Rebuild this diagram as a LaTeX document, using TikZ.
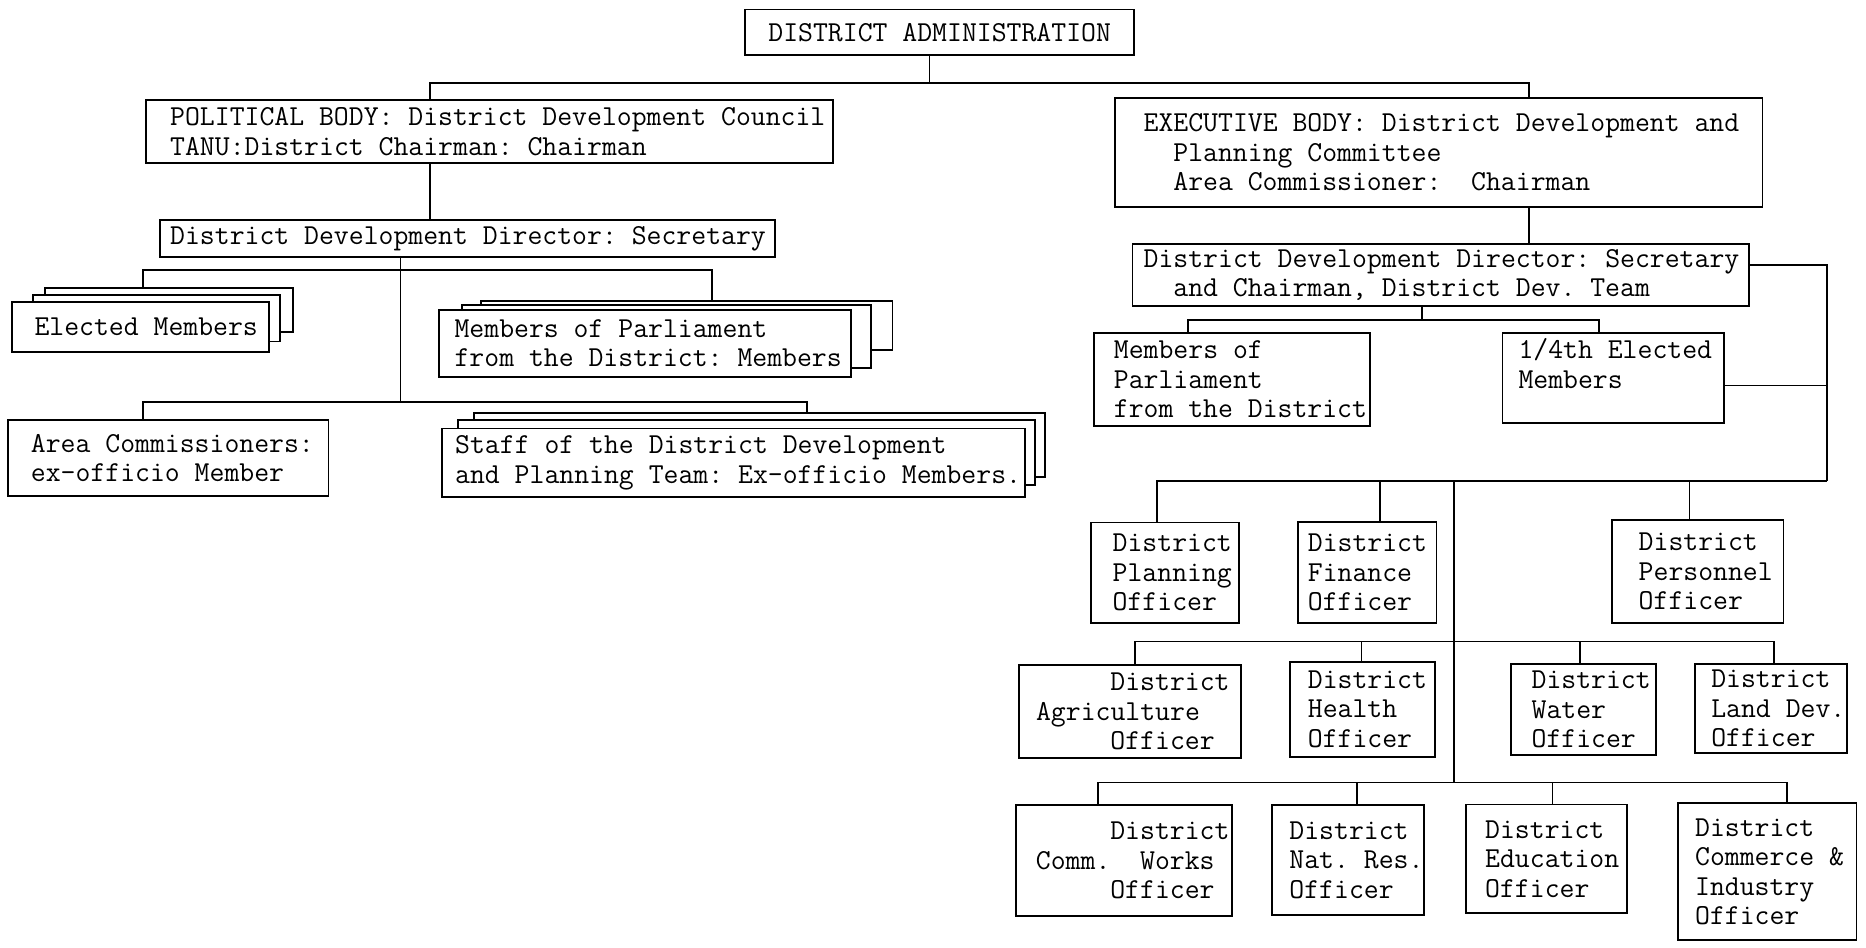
\documentclass[tikz,border=0pt]{standalone}
\usepackage{tikz}
\tikzset{
  bx/.style={draw, line width=1.5pt, fill=white, anchor=north west, inner xsep=0pt, inner ysep=0pt, outer sep=0pt, align=left, font=\ttfamily\fontsize{24.3}{24.8}\selectfont},
  ln/.style={line width=1.5pt},
}
\newcommand\bxnode[7]{%
  \pgfmathsetlengthmacro\bxw{(#4)-(#2)}%
  \pgfmathsetlengthmacro\bxh{(#5)-(#3)}%
  \pgfmathsetlengthmacro\bxp{(#6)-(#2)}%
  \node[bx, text width=\bxw, minimum height=\bxh] (#1) at (#2,#3) {\spaceskip=12.5pt\relax\xspaceskip=12.5pt\relax\leftskip=\bxp\relax #7\par};}
\begin{document}
\begin{tikzpicture}[x=1pt,y=-1pt]
\useasboundingbox (0,0) rectangle (1568,796);
% ---------- boxes ----------
\bxnode{top}{626}{8}{953}{46}{645.7}{\mbox{DISTRICT ADMINISTRATION}}
\bxnode{pol}{123}{84}{700}{137}{143}{\mbox{POLITICAL BODY: District Development Council}\\\mbox{TANU:District Chairman: Chairman}}
\bxnode{ddl}{134.5}{185}{651}{216}{143}{\mbox{District Development Director: Secretary}}
% elected members stack
\bxnode{ele3}{38}{242}{246}{279}{38}{}
\bxnode{ele2}{28}{248}{235}{287}{28}{}
\bxnode{ele1}{10}{254}{226}{295.5}{29}{\mbox{Elected Members}}
% MPs stack
\bxnode{mp3}{404}{252.6}{750}{294}{404}{}
\bxnode{mp2}{388}{256}{732}{309}{388}{}
\bxnode{mp1}{369}{260.5}{715}{316.5}{382}{\mbox{Members of Parliament}\\\mbox{from the District: Members}}
\bxnode{area}{7}{353}{276}{417}{26}{\mbox{Area Commissioners:}\\\mbox{ex-officio Member}}
% staff stack
\bxnode{st3}{398}{347}{878}{400.6}{398}{}
\bxnode{st2}{385}{353}{869.5}{407.6}{385}{}
\bxnode{st1}{371.5}{360}{861}{417.6}{382.5}{\mbox{Staff of the District Development}\\\mbox{and Planning Team: Ex-officio Members.}}
% right side
\bxnode{exec}{937}{82.5}{1481}{174}{961}{\mbox{EXECUTIVE BODY: District Development and}\\\hspace*{25pt}\mbox{Planning Committee}\\\hspace*{25pt}\mbox{Area Commissioner:\ \ Chairman}}
\bxnode{ddr}{951.7}{205}{1469.7}{257}{961}{\mbox{District Development Director: Secretary}\\\hspace*{25pt}\mbox{and Chairman, District Dev. Team}}
\bxnode{mpr}{919}{280}{1151}{358}{936}{\mbox{Members of}\\Parliament\\\mbox{from the District}}
\bxnode{quarter}{1262.5}{280}{1448.6}{355.6}{1276}{\mbox{1/4th Elected}\\Members\\\mbox{}}
% officers row 1
\bxnode{plan}{916.7}{439}{1041}{523.5}{935}{District\\Planning\\Officer}
\bxnode{fin}{1091}{438.5}{1207}{523.5}{1099}{District\\Finance\\Officer}
\bxnode{pers}{1354.6}{437}{1498.7}{523.5}{1377}{District\\Personnel\\Officer}
% officers row 2
\bxnode{agri}{856}{559}{1043}{637}{870.6}{\hspace*{62.5pt}District\\Agriculture\\\hspace*{62.5pt}Officer}
\bxnode{hea}{1084}{556}{1206}{636}{1099}{District\\Health\\Officer}
\bxnode{wat}{1269.6}{558}{1391.6}{634.5}{1287}{District\\Water\\Officer}
\bxnode{land}{1424}{558}{1552}{633}{1438}{District\\\mbox{Land Dev.}\\Officer}
% officers row 3
\bxnode{cw}{854}{676.4}{1035}{770}{870.5}{\hspace*{62.5pt}District\\\mbox{Comm.\ \ Works}\\\hspace*{62.5pt}Officer}
\bxnode{nr}{1069}{676.5}{1196.8}{769}{1083.5}{District\\\mbox{Nat. Res.}\\Officer}
\bxnode{edu}{1231.6}{676}{1367}{767.4}{1248}{District\\Education\\Officer}
\bxnode{com}{1410}{675}{1560}{790}{1424.4}{District\\\mbox{Commerce \&}\\Industry\\Officer}
% ---------- junction points ----------
\coordinate (t0) at (361,70);
\coordinate (t1) at (781,70);
\coordinate (t2) at (1284.5,70);
\coordinate (l1) at (336.5,227);
\coordinate (l2) at (336.5,337.5);
\coordinate (le) at (120,227);
\coordinate (lm) at (598,227);
\coordinate (la) at (120,337.5);
\coordinate (ls) at (678,337.5);
\coordinate (r1) at (1195,269);
\coordinate (rm) at (998,269);
\coordinate (rq) at (1343.5,269);
\coordinate (v1) at (1535,222.7);
\coordinate (v3) at (1535,324);
\coordinate (v2) at (1535,404);
\coordinate (o1) at (972,404);
\coordinate (o2) at (1159.6,404);
\coordinate (o3) at (1419.6,404);
\coordinate (om) at (1222,404);
\coordinate (bm) at (1222,657.5);
\coordinate (a1) at (954,539);
\coordinate (a2) at (1144,539);
\coordinate (a3) at (1327.6,539);
\coordinate (a4) at (1491,539);
\coordinate (c1) at (922.7,657.5);
\coordinate (c2) at (1140,657.5);
\coordinate (c3) at (1304.6,657.5);
\coordinate (c4) at (1501.6,657.5);
% ---------- connectors ----------
\draw[ln] (top.south -| t1) -- (t1);
\draw[ln] (pol.north -| t0) -- (t0) -- (t2) -- (exec.north -| t2);
\draw[ln] (pol.south -| t0) -- (ddl.north -| t0);
\draw[ln] (ddl.south -| l1) -- (l2);
\draw[ln] (ele3.north -| le) -- (le) -- (lm) -- (mp3.north -| lm);
\draw[ln] (area.north -| la) -- (la) -- (ls) -- (st3.north -| ls);
\draw[ln] (exec.south -| t2) -- (ddr.north -| t2);
\draw[ln] (ddr.south -| r1) -- (r1);
\draw[ln] (mpr.north -| rm) -- (rm) -- (rq) -- (quarter.north -| rq);
\draw[ln] (v1 -| ddr.east) -- (v1) -- (v2);
\draw[ln] (v3 -| quarter.east) -- (v3);
\draw[ln] (plan.north -| o1) -- (o1) -- (v2);
\draw[ln] (o2) -- (fin.north -| o2);
\draw[ln] (o3) -- (pers.north -| o3);
\draw[ln] (om) -- (bm);
\draw[ln] (agri.north -| a1) -- (a1) -- (a4) -- (land.north -| a4);
\draw[ln] (a2) -- (hea.north -| a2);
\draw[ln] (a3) -- (wat.north -| a3);
\draw[ln] (cw.north -| c1) -- (c1) -- (c4) -- (com.north -| c4);
\draw[ln] (c2) -- (nr.north -| c2);
\draw[ln] (c3) -- (edu.north -| c3);
\end{tikzpicture}
\end{document}
